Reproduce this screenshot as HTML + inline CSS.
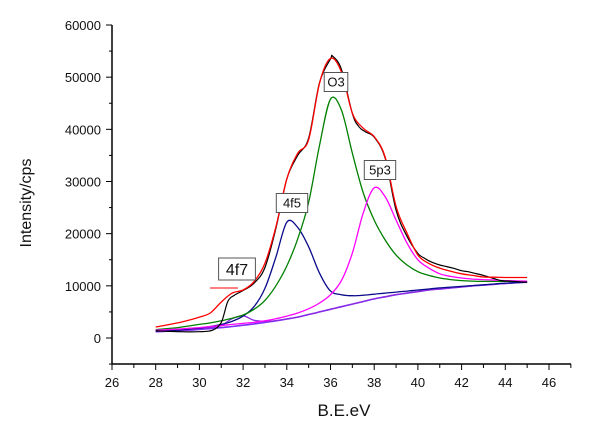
<!DOCTYPE html>
<html><head><meta charset="utf-8"><style>
html,body{margin:0;padding:0;background:#fff;}
svg{display:block;font-family:"Liberation Sans",Arial,sans-serif;}
</style></head><body>
<svg id="chart" width="600" height="432" viewBox="0 0 600 432" xmlns="http://www.w3.org/2000/svg">
<g id="axes"></g>
<g id="series"></g>
<g id="labels"></g>
<text x="0" y="0" transform="translate(31,203) rotate(-90)" text-anchor="middle" font-size="16" fill="#111">Intensity/cps</text>
<text x="344" y="416" text-anchor="middle" font-size="17" fill="#111">B.E.eV</text>
</svg>
<script>
const xTicks=[26,28,30,32,34,36,38,40,42,44,46];
const yTicks=[0,10000,20000,30000,40000,50000,60000];
const gridX=[28,28.5,29,29.5,30,30.5,31,31.5,32,32.5,33,33.5,34,34.5,35,35.5,36,36.5,37,37.5,38,38.5,39,39.5,40,40.5,41,41.5,42,42.5,43,43.5,44,44.5,45];
const background=[1200,1300,1400,1500,1650,1800,2000,2200,2450,2700,3000,3300,3650,4000,4500,5000,5500,6000,6500,7000,7500,7900,8300,8600,8900,9200,9400,9600,9800,10000,10150,10300,10450,10600,10700];
const peak4f7=[1250,1350,1450,1550,1750,2000,2400,3700,4250,3400,3200,3300,3650,4000,4500,5000,5500,6000,6500,7000,7500,7900,8300,8600,8900,9200,9400,9600,9800,10000,10150,10300,10450,10600,10700];
const peak4f5=[1300,1400,1500,1700,1900,2200,2600,3200,4200,6000,9500,15500,22200,21200,17500,12400,9000,8300,8100,8200,8400,8600,8800,9000,9200,9400,9600,9750,9900,10050,10200,10350,10500,10600,10700];
const peakO3=[1600,1800,2000,2300,2600,2900,3300,3800,4400,5500,7200,10000,13800,19000,26000,37000,45800,43700,35400,27800,22600,18800,15900,14000,12700,12000,11500,11200,11000,10900,10850,10850,10850,10880,10900];
const peak5p3=[1500,1600,1700,1850,2000,2200,2400,2600,2800,3000,3300,3700,4200,4800,5600,6700,8300,11000,16300,24000,28800,27100,22600,18200,15000,13400,12300,11800,11500,11300,11200,11100,11000,10950,10900];
const envelope=[2100,2500,2900,3400,4000,4800,6900,8600,9200,10800,14300,21300,30500,35400,38000,48900,53600,51000,43100,40200,38600,34700,25200,20100,15900,14300,13400,12800,12300,12000,11700,11650,11600,11600,11600];
const dataX=[28,29,30,30.6,31,31.3,31.6,32,32.5,33,33.5,34,34.5,35,35.5,36,36.1,36.5,37,37.3,37.6,38,38.5,39,39.5,40,40.3,40.6,41,41.3,41.6,42,42.3,42.6,43,43.4,43.8,44.2,44.6,45];
const dataY=[1400,1200,1200,1500,3000,7000,8200,9100,10500,13500,21000,30500,35000,38300,49000,53500,54000,51500,43000,40500,39500,38500,34500,24500,19500,16200,15300,14600,14000,13700,13400,12900,12700,12400,12000,11500,11000,10900,10800,10700];

const X0=26,X1=46,PX0=112,PX1=549;
const Y0=0,Y1=60000,PY0=338,PY1=25;
function sx(v){return PX0+(v-X0)*(PX1-PX0)/(X1-X0);}
function sy(v){return PY0+(v-Y0)*(PY1-PY0)/(Y1-Y0);}
const NS="http://www.w3.org/2000/svg";
function mk(tag,attrs,parent){const e=document.createElementNS(NS,tag);for(const k in attrs)e.setAttribute(k,attrs[k]);parent.appendChild(e);return e;}

const axes=document.getElementById('axes');
const yAxis=mk('line',{x1:112,y1:25,x2:112,y2:364,stroke:'#000','stroke-width':1.5},axes);


const xAxis=mk('line',{x1:112,y1:364,x2:571,y2:364,stroke:'#000','stroke-width':1.5},axes);


for(let v=-5000;v<=60000;v+=5000){
  const major=v%10000===0;
  const t=mk('line',{x1:major?106:109,y1:sy(v),x2:112,y2:sy(v),stroke:'#000','stroke-width':1},axes);
  
  
}
yTicks.forEach(v=>{
  const t=mk('text',{x:101,y:sy(v)+5,'text-anchor':'end','font-size':13,fill:'#111'},axes);
  t.textContent=v;
  
  
});
for(let v=26;v<=47;v+=1){
  const major=v%2===0;
  const t=mk('line',{x1:sx(v),y1:364,x2:sx(v),y2:major?370:368,stroke:'#000','stroke-width':1},axes);
  
  
}
xTicks.forEach(v=>{
  const t=mk('text',{x:sx(v),y:387,'text-anchor':'middle','font-size':13,fill:'#111'},axes);
  t.textContent=v;
  
  
});

function smoothPath(xs,ys){
  const p=xs.map((x,i)=>[sx(x),sy(ys[i])]);
  let d='M'+p[0][0].toFixed(1)+','+p[0][1].toFixed(1);
  for(let i=0;i<p.length-1;i++){
    const p0=p[i-1]||p[i],p1=p[i],p2=p[i+1],p3=p[i+2]||p2;
    const c1=[p1[0]+(p2[0]-p0[0])/6,p1[1]+(p2[1]-p0[1])/6];
    const c2=[p2[0]-(p3[0]-p1[0])/6,p2[1]-(p3[1]-p1[1])/6];
    d+='C'+c1[0].toFixed(1)+','+c1[1].toFixed(1)+' '+c2[0].toFixed(1)+','+c2[1].toFixed(1)+' '+p2[0].toFixed(1)+','+p2[1].toFixed(1);
  }
  return d;
}
const series=document.getElementById('series');
function line(xs,ys,color,name,w){
  const e=mk('path',{d:smoothPath(xs,ys),fill:'none',stroke:color,'stroke-width':w||1.3},series);
  
  
}
line(gridX,background,'#7f2bff','background-line',1.6);
line(gridX,peak4f7,'#8a2be2','peak-4f7-line');
line(gridX,peak4f5,'#0a0a8a','peak-4f5-line');
line(gridX,peakO3,'#008000','peak-o3-line');
line(gridX,peak5p3,'#ff00ff','peak-5p3-line');
line(dataX,dataY,'#000','raw-data-line',1.2);
line(gridX,envelope,'#ff0000','envelope-fit-line',1.3);

const labels=document.getElementById('labels');
function box(txt,cx,cy,fs,name){
  const w=txt.length*fs*0.6+8,h=fs+6;
  const r=mk('rect',{x:cx-w/2,y:cy-h/2,width:w,height:h,fill:'#fff',stroke:'#555','stroke-width':1},labels);
  
  
  const t=mk('text',{x:cx,y:cy+fs*0.36,'text-anchor':'middle','font-size':fs,fill:'#111'},labels);
  t.textContent=txt;
  
  
}
box('O3',336,82,13,'label-o3');
box('4f5',292,203,13,'label-4f5');
box('5p3',380,170,13,'label-5p3');
box('4f7',237,269,16,'label-4f7');
const rl=mk('line',{x1:210,y1:288,x2:238,y2:288,stroke:'#ff0000','stroke-width':1},labels);


</script>
</body></html>
